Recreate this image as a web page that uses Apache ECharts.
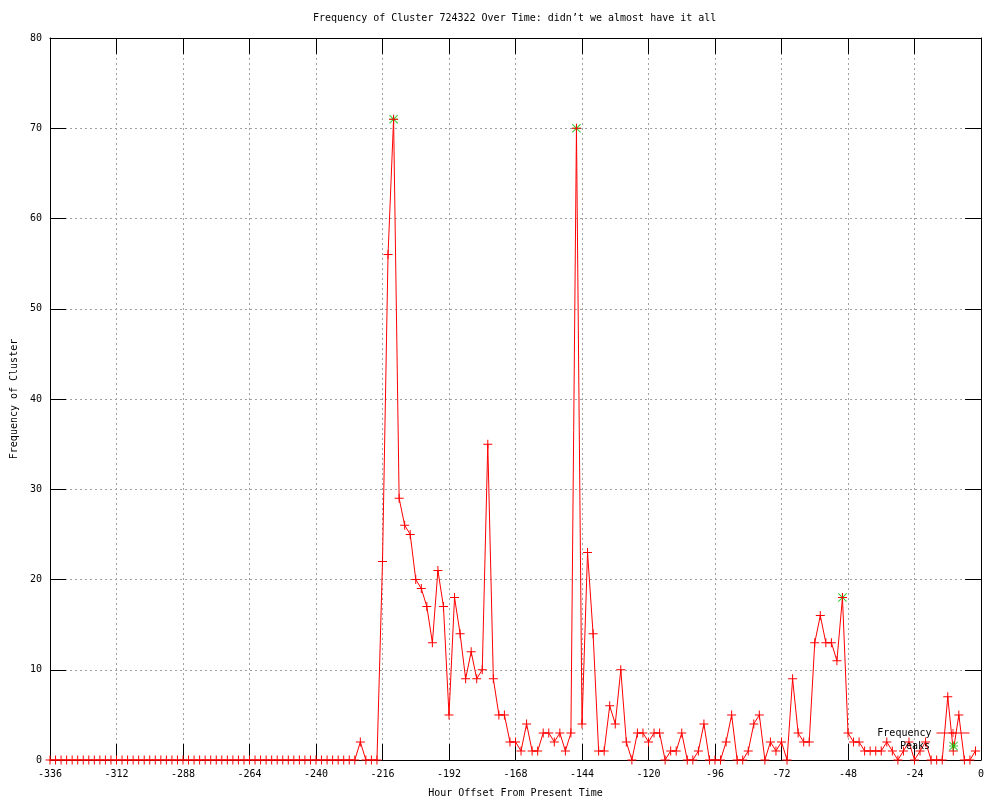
<!DOCTYPE html>
<html>
<head>
<meta charset="utf-8">
<title>Frequency of Cluster 724322</title>
<script src="https://cdn.jsdelivr.net/npm/echarts@6/dist/echarts.min.js"></script>
<style>
  html, body { margin: 0; padding: 0; background: #fff; }
  #chart { width: 1000px; height: 800px; }
</style>
</head>
<body>
<div id="chart"></div>
<script>
// hour offsets, one sample every 2 hours
const hours = [
  -336, -334, -332, -330, -328, -326, -324, -322, -320, -318, -316, -314,
  -312, -310, -308, -306, -304, -302, -300, -298, -296, -294, -292, -290,
  -288, -286, -284, -282, -280, -278, -276, -274, -272, -270, -268, -266,
  -264, -262, -260, -258, -256, -254, -252, -250, -248, -246, -244, -242,
  -240, -238, -236, -234, -232, -230, -228, -226, -224, -222, -220, -218,
  -216, -214, -212, -210, -208, -206, -204, -202, -200, -198, -196, -194,
  -192, -190, -188, -186, -184, -182, -180, -178, -176, -174, -172, -170,
  -168, -166, -164, -162, -160, -158, -156, -154, -152, -150, -148, -146,
  -144, -142, -140, -138, -136, -134, -132, -130, -128, -126, -124, -122,
  -120, -118, -116, -114, -112, -110, -108, -106, -104, -102, -100, -98,
  -96, -94, -92, -90, -88, -86, -84, -82, -80, -78, -76, -74,
  -72, -70, -68, -66, -64, -62, -60, -58, -56, -54, -52, -50,
  -48, -46, -44, -42, -40, -38, -36, -34, -32, -30, -28, -26,
  -24, -22, -20, -18, -16, -14, -12, -10, -8, -6, -4, -2
]

const frequency = [
  0, 0, 0, 0, 0, 0, 0, 0, 0, 0, 0, 0,
  0, 0, 0, 0, 0, 0, 0, 0, 0, 0, 0, 0,
  0, 0, 0, 0, 0, 0, 0, 0, 0, 0, 0, 0,
  0, 0, 0, 0, 0, 0, 0, 0, 0, 0, 0, 0,
  0, 0, 0, 0, 0, 0, 0, 0, 2, 0, 0, 0,
  22, 56, 71, 29, 26, 25, 20, 19, 17, 13, 21, 17,
  5, 18, 14, 9, 12, 9, 10, 35, 9, 5, 5, 2,
  2, 1, 4, 1, 1, 3, 3, 2, 3, 1, 3, 70,
  4, 23, 14, 1, 1, 6, 4, 10, 2, 0, 3, 3,
  2, 3, 3, 0, 1, 1, 3, 0, 0, 1, 4, 0,
  0, 0, 2, 5, 0, 0, 1, 4, 5, 0, 2, 1,
  2, 0, 9, 3, 2, 2, 13, 16, 13, 13, 11, 18,
  3, 2, 2, 1, 1, 1, 1, 2, 1, 0, 1, 2,
  0, 1, 2, 0, 0, 0, 7, 1, 5, 0, 0, 1
]

const peakHours = [-212, -146, -50]
const peakValues = [71, 70, 18]

const xTickStep = 24
const yTickStep = 10

const FONT = 'DejaVu Sans Mono'
const plusIcon = 'path://M4,0h1v4h4v1h-4v4h-1v-4h-4v-1h4z'
const starIcon = 'path://M4,0h1v4h4v1h-4v4h-1v-4h-4v-1h4z M0,0.7L0.7,0L9,8.3L8.3,9Z M8.3,0L9,0.7L0.7,9L0,8.3Z'

const freqData = hours.map((h, i) => [h, frequency[i]])
const peakData = peakHours.map((h, i) => [h, peakValues[i]])

const chart = echarts.init(document.getElementById('chart'))

const tickStyle = { show: true, inside: true, length: 16, lineStyle: { color: '#000', width: 1 } }
const lineAxis = { show: true, onZero: false, lineStyle: { color: '#000', width: 1 } }
const labelStyle = { color: '#000', fontFamily: FONT, fontSize: 10 }

chart.setOption({
  animation: false,
  title: {
    text: 'Frequency of Cluster 724322 Over Time: didn’t we almost have it all',
    left: 313,
    top: 13,
    padding: 0,
    textStyle: { color: '#000', fontFamily: FONT, fontSize: 10, fontWeight: 'normal' }
  },
  grid: { left: 50, right: 19, top: 38, bottom: 40, outerBoundsMode: 'none' },
  legend: [
    {
      data: ['Frequency'],
      right: 30,
      top: 728,
      padding: 0,
      align: 'right',
      itemWidth: 33,
      itemHeight: 10,
      selectedMode: false,
      lineStyle: { width: 1 },
      textStyle: labelStyle
    },
    {
      data: ['Peaks'],
      right: 42,
      top: 741,
      padding: 0,
      align: 'right',
      itemWidth: 9,
      itemHeight: 9,
      selectedMode: false,
      textStyle: Object.assign({ padding: [0, 14, 0, 0] }, labelStyle)
    }
  ],
  xAxis: [
    {
      type: 'value',
      min: -336,
      max: 0,
      interval: xTickStep,
      name: 'Hour Offset From Present Time',
      nameLocation: 'middle',
      nameGap: 28,
      nameTextStyle: labelStyle,
      axisLine: lineAxis,
      axisTick: tickStyle,
      axisLabel: Object.assign({ margin: 9 }, labelStyle),
      splitLine: { show: true, lineStyle: { color: '#a0a0a0', width: 1, type: [2, 3] } }
    },
    {
      type: 'value',
      position: 'top',
      min: -336,
      max: 0,
      interval: xTickStep,
      axisLine: lineAxis,
      axisTick: tickStyle,
      axisLabel: { show: false },
      splitLine: { show: false }
    }
  ],
  yAxis: [
    {
      type: 'value',
      min: 0,
      max: 80,
      interval: yTickStep,
      name: 'Frequency of Cluster',
      nameLocation: 'middle',
      nameGap: 31,
      nameTextStyle: labelStyle,
      axisLine: lineAxis,
      axisTick: tickStyle,
      axisLabel: Object.assign({ margin: 8 }, labelStyle),
      splitLine: { show: true, lineStyle: { color: '#a0a0a0', width: 1, type: [2, 3] } }
    },
    {
      type: 'value',
      position: 'right',
      min: 0,
      max: 80,
      interval: yTickStep,
      axisLine: lineAxis,
      axisTick: tickStyle,
      axisLabel: { show: false },
      splitLine: { show: false }
    }
  ],
  series: [
    {
      name: 'Frequency',
      type: 'line',
      xAxisIndex: 0,
      yAxisIndex: 0,
      data: freqData,
      showAllSymbol: true,
      symbol: plusIcon,
      symbolSize: 9,
      z: 3,
      itemStyle: { color: '#ff0000' },
      lineStyle: { color: '#ff0000', width: 1 },
      emphasis: { disabled: true }
    },
    {
      name: 'Peaks',
      type: 'scatter',
      xAxisIndex: 0,
      yAxisIndex: 0,
      data: peakData,
      symbol: starIcon,
      symbolSize: 9,
      z: 2,
      itemStyle: { color: '#00c000' },
      emphasis: { disabled: true }
    }
  ]
})
</script>
</body>
</html>
